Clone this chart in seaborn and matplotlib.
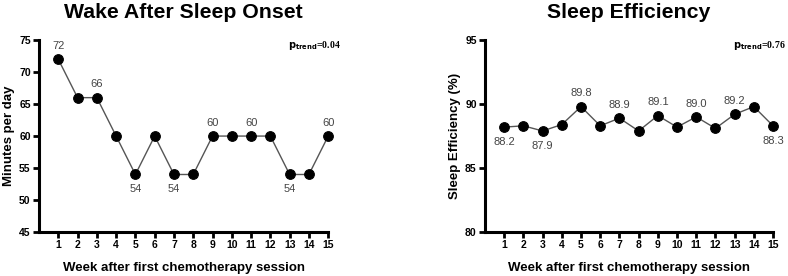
import numpy as np
import pandas as pd
import matplotlib
matplotlib.use("Agg")
import matplotlib.pyplot as plt
import seaborn as sns

# データ
weeks = list(range(1, 16))
waso = [72, 66, 66, 60, 54, 60, 54, 54, 60, 60, 60, 60, 54, 54, 60]
sleep_eff = [88.2, 88.3, 87.9, 88.4, 89.8, 88.3, 88.9, 87.9, 89.1, 88.2, 89.0, 88.1, 89.2, 89.8, 88.3]
waso_p = "0.04"
se_p = "0.76"

# 注釈 (週, 上/下)
waso_labels = [(1, "up"), (3, "up"), (5, "down"), (7, "down"), (9, "up"), (11, "up"), (13, "down"), (15, "up")]
se_labels = [(1, "down"), (3, "down"), (5, "up"), (7, "up"), (9, "up"), (11, "up"), (13, "up"), (15, "down")]

sns.set_style("white")
plt.rcParams["font.family"] = ["Liberation Sans", "DejaVu Sans"]
plt.rcParams["text.color"] = "black"
plt.rcParams["axes.labelcolor"] = "black"
plt.rcParams["xtick.color"] = "black"
plt.rcParams["ytick.color"] = "black"

fig = plt.figure(figsize=(7.88, 2.76), dpi=100)
ax1 = fig.add_axes([0.0495, 0.159, 0.367, 0.696])
ax2 = fig.add_axes([0.6155, 0.159, 0.3655, 0.696])


def draw_panel(ax, values, labels, fmt, title, ylabel, ylim, yticks, pval):
    df = pd.DataFrame({"week": weeks, "value": values})
    sns.lineplot(data=df, x="week", y="value", ax=ax, color="#555555", lw=1.0,
                 marker="o", markersize=7, markerfacecolor="black",
                 markeredgecolor="black", clip_on=False)
    for wk, pos in labels:
        v = values[wk - 1]
        off = 6 if pos == "up" else -7
        ax.annotate(fmt.format(v), (wk, v), xytext=(0, off), textcoords="offset points",
                    ha="center", va="bottom" if pos == "up" else "top",
                    fontsize=8, color="#444444")
    ax.set_xlim(0, 15)
    ax.set_ylim(*ylim)
    ax.set_xticks(weeks)
    ax.set_yticks(yticks)
    ax.tick_params(axis="both", direction="out", length=4, width=2, labelsize=7.5,
                   bottom=True, left=True, pad=2)
    for lab in ax.get_xticklabels() + ax.get_yticklabels():
        lab.set_fontweight("bold")
    for s in ["top", "right"]:
        ax.spines[s].set_visible(False)
    for s in ["left", "bottom"]:
        ax.spines[s].set_linewidth(2.2)
        ax.spines[s].set_color("black")
    ax.set_xlabel("Week after first chemotherapy session", fontsize=9.5,
                  fontweight="bold", labelpad=8)
    ax.set_ylabel(ylabel, fontsize=9.5, fontweight="bold", labelpad=3)
    ax.set_title(title, fontsize=15.3, fontweight="bold", pad=15.5)
    ax.text(0.86, 0.97, r"$\mathbf{p_{trend}}$=" + pval, transform=ax.transAxes,
            ha="left", va="center", fontsize=7, fontweight="bold",
            family=["Liberation Serif", "DejaVu Serif"])


draw_panel(ax1, waso, waso_labels, "{:d}", "Wake After Sleep Onset", "Minutes per day",
           (45, 75), [45, 50, 55, 60, 65, 70, 75], waso_p)
draw_panel(ax2, sleep_eff, se_labels, "{:.1f}", "Sleep Efficiency", "Sleep Efficiency (%)",
           (80, 95), [80, 85, 90, 95], se_p)

fig.savefig("out.png", dpi=100)
